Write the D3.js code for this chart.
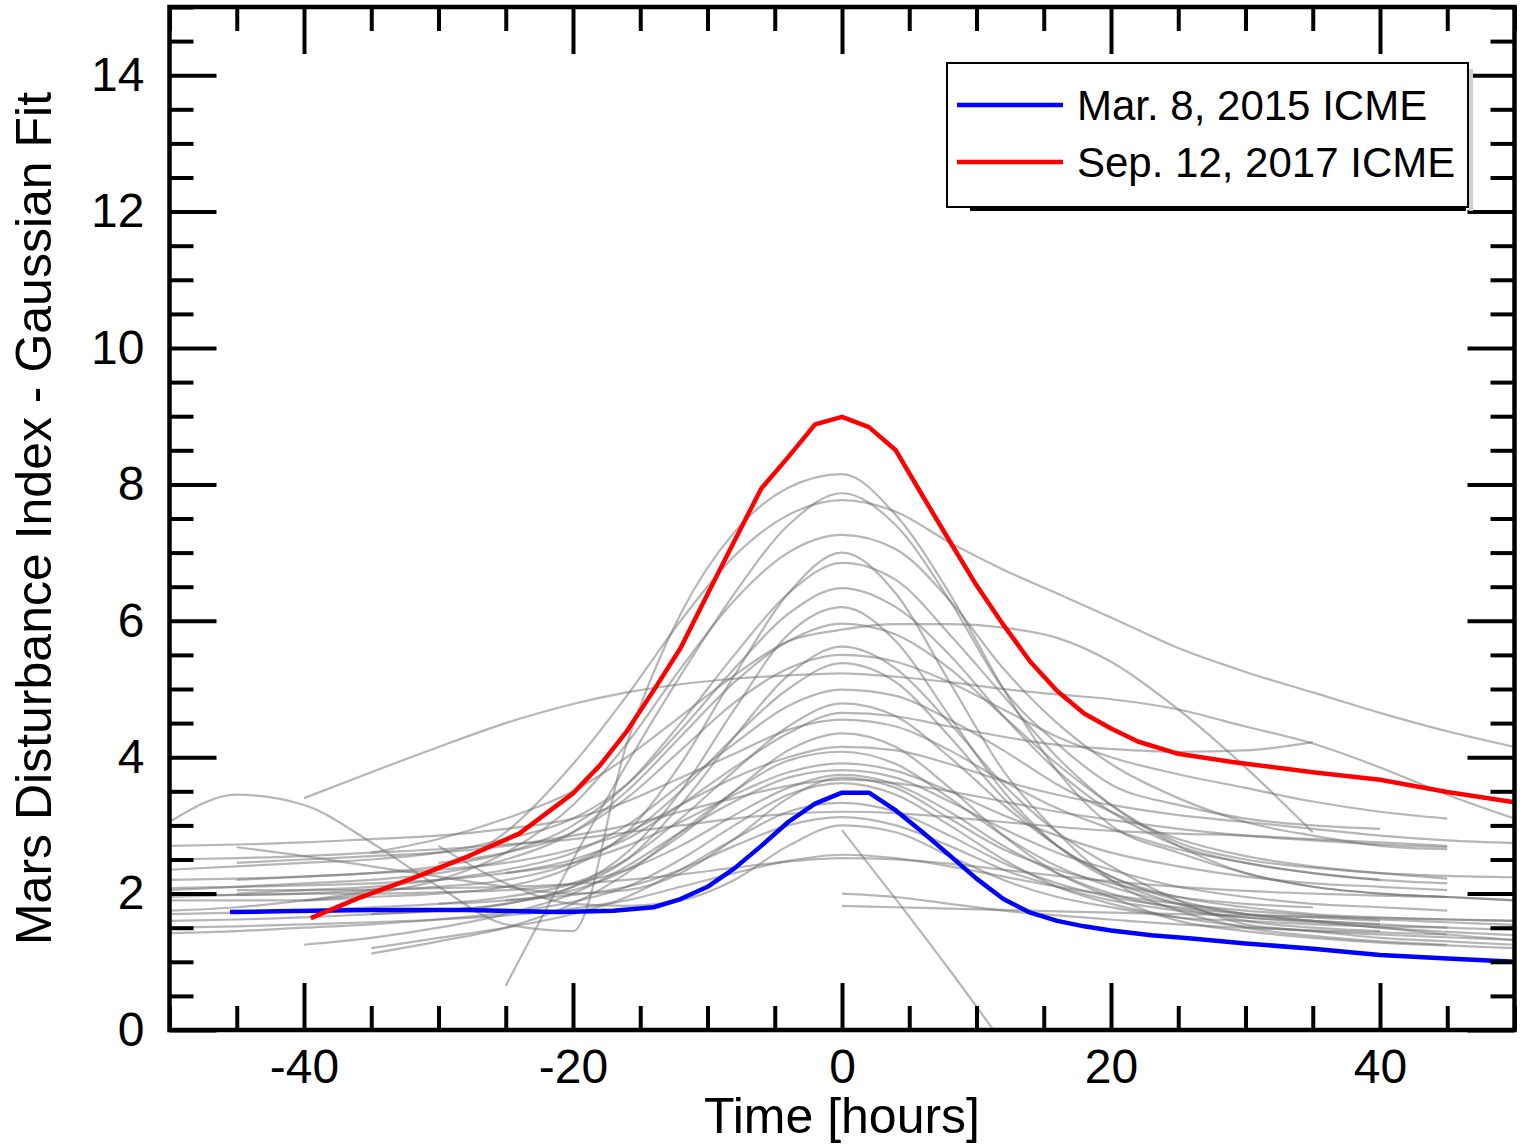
<!DOCTYPE html>
<html>
<head>
<meta charset="utf-8">
<script src="https://cdn.jsdelivr.net/npm/d3@7"></script>
<style>
  body { margin: 0; background: #fff; }
  text { font-family: "Liberation Sans", Arial, Helvetica, sans-serif; }
</style>
</head>
<body>
<svg id="chart" width="1520" height="1145"></svg>
<script>
// ---- data ----
// Sep. 12, 2017 ICME (red)
var redT = [-39.5,-36,-32,-28,-24,-20,-18,-16,-14,-12,-10,-8,-6,-4,-2,0,2,4,6,8,10,12,14,16,18,20,22,25,29,35,40,45,50];
var redV = [1.64,1.93,2.22,2.53,2.88,3.47,3.88,4.38,4.98,5.6,6.39,7.17,7.94,8.4,8.88,8.99,8.84,8.5,7.83,7.17,6.52,5.94,5.4,4.97,4.64,4.42,4.23,4.05,3.93,3.78,3.67,3.49,3.34];

// Mar. 8, 2015 ICME (blue)
var blueT = [-45.5,-42,-35,-28,-21,-17,-14,-12,-10,-8,-6,-4,-2,0,2,4,6,8,10,12,14,16,18,20,23,26,30,35,40,45,50];
var blueV = [1.73,1.74,1.76,1.76,1.73,1.75,1.8,1.92,2.1,2.37,2.7,3.05,3.32,3.48,3.48,3.22,2.9,2.56,2.22,1.92,1.72,1.6,1.52,1.46,1.39,1.34,1.27,1.19,1.1,1.05,1.0];

// all other events (gray), sampled on a common time grid, null = no data
var grayT = [-50,-45,-40,-35,-30,-25,-20,-16,-12,-8,-4,0,4,8,12,16,20,25,30,35,40,45,50];
var grayRuns = [
  [3.05,3.45,3.3,2.75,2.1,1.55,1.45,4.2,6.1,7.3,7.95,8.15,7.55,6.4,5.0,3.8,3.0,2.6,2.3,2.1,2.0,1.95,1.9],
  [null,null,null,null,null,0.65,2.5,3.9,5.2,6.4,7.4,7.87,7.4,6.3,5.0,4.2,3.6,3.3,3.1,3.0,2.95,null,null],
  [1.75,1.8,1.9,2.05,2.35,2.9,3.9,4.9,6.0,6.95,7.55,7.77,7.6,7.15,6.75,6.4,6.05,5.6,5.25,4.95,4.65,4.38,4.15],
  [null,null,1.9,2.0,2.2,2.6,3.3,4.2,5.3,6.3,7.0,7.26,7.05,6.3,5.3,4.5,3.9,3.4,3.05,2.85,2.7,2.65,null],
  [1.9,1.9,1.9,1.95,2.0,2.1,2.4,2.9,3.9,5.2,6.4,7.0,6.4,5.1,3.8,2.9,2.2,1.75,1.5,1.38,1.3,1.25,null],
  [null,2.2,2.25,2.3,2.4,2.6,3.0,3.6,4.5,5.5,6.4,6.85,6.6,5.8,4.9,4.0,3.3,2.7,2.3,2.1,2.0,1.95,1.9],
  [2.35,2.4,2.45,2.5,2.6,2.8,3.1,3.6,4.4,5.3,6.1,6.48,6.2,5.5,4.6,3.8,3.2,2.7,2.45,2.3,2.2,null,null],
  [null,null,null,1.7,1.75,1.85,2.1,2.6,3.5,4.7,5.8,6.2,5.7,4.6,3.5,2.7,2.2,1.85,1.6,1.5,1.45,null,null],
  [2.05,2.1,2.15,2.2,2.3,2.5,2.9,3.5,4.3,5.1,5.7,5.96,5.8,5.3,4.6,3.9,3.3,2.75,2.5,2.38,2.3,2.26,2.24],
  [null,null,null,2.6,2.8,3.1,3.5,4.0,4.6,5.2,5.7,5.87,5.95,5.95,5.9,5.75,5.4,4.7,3.85,2.9,null,null,null],
  [1.6,1.62,1.65,1.7,1.75,1.85,2.1,2.5,3.3,4.3,5.2,5.62,5.3,4.5,3.6,2.9,2.4,1.9,1.55,1.45,1.35,1.3,1.25],
  [null,null,null,null,2.45,2.6,2.9,3.4,4.1,4.8,5.3,5.5,5.4,5.1,4.7,4.3,4.0,3.75,3.55,3.35,3.2,3.1,null],
  [1.95,1.98,2.0,2.05,2.1,2.2,2.45,2.85,3.5,4.3,5.0,5.38,5.1,4.3,3.4,2.7,2.25,1.95,1.8,1.7,1.65,1.62,1.6],
  [null,null,3.4,3.78,4.15,4.5,4.78,4.95,5.07,5.15,5.2,5.23,5.18,5.1,5.0,4.92,4.85,4.7,4.45,4.2,3.85,3.45,3.1],
  [null,2.0,2.05,2.1,2.2,2.35,2.6,3.0,3.6,4.2,4.75,4.99,4.9,4.55,4.1,3.6,3.2,2.8,2.55,2.4,2.3,2.22,null],
  [1.7,1.72,1.75,1.8,1.85,1.95,2.15,2.5,3.1,3.8,4.45,4.79,4.6,4.0,3.3,2.7,2.25,1.9,1.7,1.6,1.5,1.44,1.39],
  [null,null,null,null,null,2.3,2.5,2.8,3.3,3.85,4.35,4.65,4.6,4.45,4.3,4.18,4.12,4.08,4.1,4.22,null,null,null],
  [2.7,2.72,2.75,2.8,2.85,2.95,3.1,3.35,3.7,4.05,4.4,4.55,4.45,4.1,3.65,3.25,2.95,2.65,2.45,2.3,2.2,2.15,null],
  [null,null,null,null,1.85,1.9,2.05,2.35,2.85,3.5,4.1,4.35,4.15,3.55,2.85,2.3,1.95,1.6,1.45,1.35,1.28,1.24,1.2],
  [2.2,2.22,2.25,2.3,2.35,2.45,2.65,2.9,3.3,3.7,4.0,4.15,4.1,3.9,3.65,3.45,3.3,3.15,3.05,2.95,2.85,2.78,2.74],
  [null,null,null,1.12,1.3,1.5,1.85,2.3,2.9,3.5,3.95,4.08,3.9,3.4,2.85,2.4,2.1,1.85,1.7,1.6,1.55,null,null],
  [2.08,2.1,2.12,2.15,2.2,2.3,2.45,2.7,3.05,3.45,3.78,3.91,3.8,3.5,3.15,2.85,2.6,2.4,2.25,2.15,2.1,2.05,null],
  [null,null,1.25,1.35,1.5,1.7,2.0,2.4,2.9,3.35,3.7,3.81,3.7,3.35,2.95,2.6,2.35,2.1,1.95,1.85,1.8,1.75,null],
  [1.98,1.98,2.0,2.0,2.02,2.05,2.15,2.35,2.7,3.15,3.55,3.74,3.6,3.2,2.7,2.3,2.0,1.78,1.65,1.58,1.5,1.4,1.32],
  [null,2.45,2.5,2.55,2.6,2.7,2.85,3.0,3.2,3.4,3.58,3.67,3.62,3.5,3.35,3.2,3.08,2.95,2.85,2.78,2.72,2.68,null],
  [1.42,1.45,1.5,1.55,1.62,1.72,1.88,2.1,2.5,3.0,3.45,3.62,3.45,3.0,2.5,2.1,1.85,1.65,1.52,1.45,1.4,1.36,1.32],
  [null,null,null,1.2,1.35,1.5,1.7,1.95,2.35,2.8,3.2,3.33,3.2,2.85,2.45,2.15,1.95,1.8,1.7,1.65,1.6,null,null],
  [2.5,2.52,2.55,2.6,2.65,2.72,2.8,2.9,3.0,3.1,3.17,3.2,3.18,3.12,3.05,2.98,2.92,2.88,2.85,2.8,2.75,2.7,null],
  [null,null,null,null,null,1.9,1.98,2.1,2.35,2.7,3.0,3.12,3.0,2.7,2.35,2.1,1.9,1.75,1.65,1.6,1.55,1.5,1.47],
  [null,null,null,null,null,null,null,null,null,null,null,2.93,1.92,0.88,-0.2,null,null,null,null,null,null,null,null],
  [1.5,1.52,1.55,1.58,1.62,1.68,1.78,1.9,2.1,2.3,2.48,2.57,2.52,2.4,2.25,2.1,1.98,1.85,1.75,1.68,1.62,1.58,1.54],
  [null,2.05,2.05,2.06,2.08,2.1,2.14,2.2,2.28,2.38,2.47,2.52,2.5,2.44,2.35,2.26,2.18,2.1,2.04,2.0,1.97,1.95,null],
  [null,null,null,null,null,null,null,null,null,null,null,2.0,1.95,1.85,1.75,1.68,1.62,1.55,1.5,1.46,1.43,1.4,null],
  [null,null,null,null,null,null,null,null,null,null,null,1.82,1.8,1.78,1.76,1.74,1.72,1.7,1.68,1.66,1.64,1.62,1.6],
  [null,null,null,null,2.7,2.15,1.85,1.82,1.9,2.2,2.7,3.0,2.9,2.55,2.2,1.95,1.8,1.65,1.6,1.55,1.52,1.5,null],
  [null,2.68,2.55,2.4,2.25,2.1,2.0,2.05,2.3,2.8,3.4,3.7,3.55,3.1,2.65,2.35,2.15,1.95,1.85,1.8,null,null,null]
];

var legendNames = ["Mar. 8, 2015 ICME", "Sep. 12, 2017 ICME"];
var legendColors = ["#0000ff", "#ff0000"];

var xMajor = [-40, -20, 0, 20, 40];
var yMajor = [0, 2, 4, 6, 8, 10, 12, 14];

// ---- layout ----
var plot = {left: 169.5, right: 1514.5, top: 7, bottom: 1030};

var svg = d3.select("#chart");
svg.append("rect").attr("width", 1520).attr("height", 1145).attr("fill", "#fff");

var x = d3.scaleLinear().domain([-50, 50]).range([plot.left, plot.right]);
var y = d3.scaleLinear().domain([0, 15]).range([plot.bottom, plot.top]);

svg.append("clipPath").attr("id", "clip")
  .append("rect")
    .attr("x", plot.left).attr("y", plot.top)
    .attr("width", plot.right - plot.left).attr("height", plot.bottom - plot.top);

// ---- curves ----
var grayLine = d3.line()
    .defined(d => d[1] !== null)
    .x(d => x(d[0]))
    .y(d => y(d[1]))
    .curve(d3.curveMonotoneX);

var eventLine = d3.line()
    .x(d => x(d[0]))
    .y(d => y(d[1]));

var lines = svg.append("g").attr("clip-path", "url(#clip)");

lines.selectAll("path.gray")
  .data(grayRuns)
  .enter().append("path")
    .attr("class", "gray")
    .attr("d", run => grayLine(run.map((v, i) => [grayT[i], v])))
    .attr("fill", "none")
    .attr("stroke", "#6e6e6e")
    .attr("stroke-opacity", 0.5)
    .attr("stroke-width", 2.2);

lines.append("path")
    .attr("d", eventLine(blueT.map((t, i) => [t, blueV[i]])))
    .attr("fill", "none")
    .attr("stroke", legendColors[0])
    .attr("stroke-width", 4.5)
    .attr("stroke-linejoin", "round");

lines.append("path")
    .attr("d", eventLine(redT.map((t, i) => [t, redV[i]])))
    .attr("fill", "none")
    .attr("stroke", legendColors[1])
    .attr("stroke-width", 4.5)
    .attr("stroke-linejoin", "round");

// ---- axes (ticks point inward on all four sides) ----
var xMinor = d3.range(-50, 51, 5).filter(v => xMajor.indexOf(v) < 0);
var yMinor = d3.range(0, 15.01, 0.5).filter(v => yMajor.indexOf(v) < 0);

function styleAxis(g) {
  g.select(".domain").remove();
  g.selectAll("line").attr("stroke", "#000").attr("stroke-width", 4);
  g.selectAll("text")
    .attr("fill", "#000")
    .style("font-family", "'Liberation Sans', Arial, Helvetica, sans-serif")
    .style("font-size", "48px");
}

var fmt = d => String(d);

svg.append("g").attr("transform", "translate(0," + plot.bottom + ")")
  .call(d3.axisBottom(x).tickValues(xMajor).tickSize(-47).tickPadding(19).tickFormat(fmt)).call(styleAxis);
svg.append("g").attr("transform", "translate(0," + plot.bottom + ")")
  .call(d3.axisBottom(x).tickValues(xMinor).tickSize(-24).tickFormat("")).call(styleAxis);
svg.append("g").attr("transform", "translate(0," + plot.top + ")")
  .call(d3.axisTop(x).tickValues(xMajor).tickSize(-47).tickFormat("")).call(styleAxis);
svg.append("g").attr("transform", "translate(0," + plot.top + ")")
  .call(d3.axisTop(x).tickValues(xMinor).tickSize(-24).tickFormat("")).call(styleAxis);

svg.append("g").attr("transform", "translate(" + plot.left + ",0)")
  .call(d3.axisLeft(y).tickValues(yMajor).tickSize(-47).tickPadding(25).tickFormat(fmt)).call(styleAxis);
svg.append("g").attr("transform", "translate(" + plot.left + ",0)")
  .call(d3.axisLeft(y).tickValues(yMinor).tickSize(-24).tickFormat("")).call(styleAxis);
svg.append("g").attr("transform", "translate(" + plot.right + ",0)")
  .call(d3.axisRight(y).tickValues(yMajor).tickSize(-47).tickFormat("")).call(styleAxis);
svg.append("g").attr("transform", "translate(" + plot.right + ",0)")
  .call(d3.axisRight(y).tickValues(yMinor).tickSize(-24).tickFormat("")).call(styleAxis);

// frame
svg.append("rect")
    .attr("x", plot.left).attr("y", plot.top)
    .attr("width", plot.right - plot.left).attr("height", plot.bottom - plot.top)
    .attr("fill", "none").attr("stroke", "#000").attr("stroke-width", 4.5);

// axis titles
svg.append("text")
    .attr("x", (plot.left + plot.right) / 2).attr("y", 1133)
    .attr("text-anchor", "middle")
    .style("font-size", "50px")
    .text("Time [hours]");

svg.append("text")
    .attr("transform", "translate(51," + ((plot.top + plot.bottom) / 2) + ") rotate(-90)")
    .attr("text-anchor", "middle")
    .style("font-size", "50px")
    .text("Mars Disturbance Index - Gaussian Fit");

// ---- legend ----
var lg = svg.append("g").attr("transform", "translate(947,63)");
lg.append("rect").attr("x", 522).attr("y", 6).attr("width", 4).attr("height", 142).attr("fill", "#d0d0d0");
lg.append("line").attr("x1", 23).attr("x2", 519).attr("y1", 146).attr("y2", 146)
    .attr("stroke", "#000").attr("stroke-width", 4);
lg.append("rect").attr("width", 521).attr("height", 144)
    .attr("fill", "#fff").attr("stroke", "#000").attr("stroke-width", 2);

var item = lg.selectAll("g.item")
  .data(legendNames)
  .enter().append("g")
    .attr("class", "item")
    .attr("transform", (d, i) => "translate(0," + (42 + i * 57) + ")");

item.append("line")
    .attr("x1", 10).attr("x2", 116)
    .attr("stroke", (d, i) => legendColors[i])
    .attr("stroke-width", 4.5);

item.append("text")
    .attr("x", 130).attr("y", 15)
    .style("font-size", "42px")
    .text(d => d);
</script>
</body>
</html>
